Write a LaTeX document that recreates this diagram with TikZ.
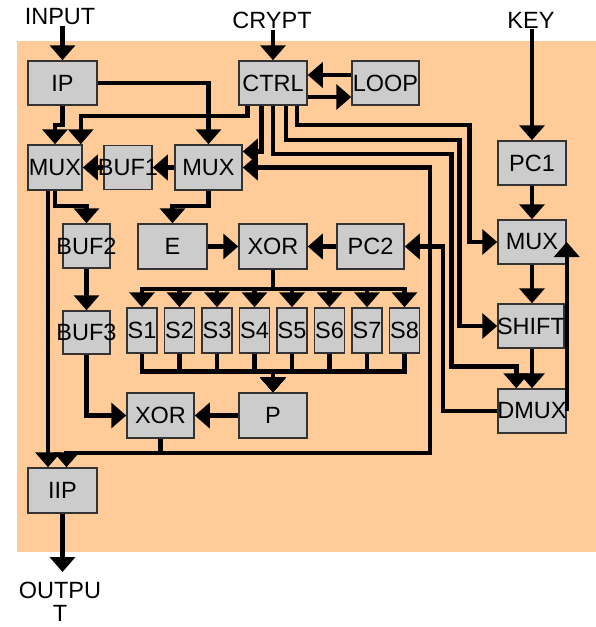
\documentclass[tikz,border=0pt]{standalone}
\usepackage{fontspec}
\setmainfont{Liberation Sans}
\usetikzlibrary{arrows.meta}

\definecolor{bgpeach}{RGB}{255,204,153}
\definecolor{boxgray}{RGB}{204,204,204}

\begin{document}
\begin{tikzpicture}[x=1pt,y=-1pt,
    font=\fontsize{23.5}{23}\selectfont,
    blk/.style={draw=black!80, line width=1.5pt, fill=boxgray, inner sep=0pt,
        minimum width=68pt, minimum height=44pt},
    arr/.style={line width=4.5pt, -{Triangle[length=15pt,width=25pt]}},
    lbl/.style={inner sep=1pt}]
    \useasboundingbox (0,0) rectangle (596,627);
    \fill[bgpeach] (17,41) rectangle (596,552);

    \node[lbl] (input) at (60,17) {INPUT};
    \node[lbl] (crypt) at (272,20) {CRYPT};
    \node[lbl] (key) at (531,20) {KEY};
    \node[lbl, align=center, anchor=north, inner ysep=0pt] (output) at (60,582) {OUTPU\\T};

    \node[blk, minimum width=69pt] (ip) at (62.5,83) {IP};
    \node[blk] (ctrl) at (273,83) {CTRL};
    \node[blk, minimum width=67pt] (loop) at (385.5,83) {LOOP};
    \node[blk, minimum width=54pt, minimum height=45pt] (mux1) at (55,167.5) {\makebox[0pt]{MUX}};
    \node[blk, minimum width=48pt] (buf1) at (128,167.5) {\makebox[0pt]{BUF1}};
    \node[blk, minimum width=67pt, minimum height=45pt] (mux2) at (208.5,167.5) {MUX};
    \node[blk, minimum width=47pt] (buf2) at (86.5,246) {\makebox[0pt]{BUF2}};
    \node[blk, minimum width=69pt, minimum height=45pt] (e) at (172.5,246.5) {E};
    \node[blk, minimum height=45pt] (xor1) at (273,246.5) {XOR};
    \node[blk, minimum width=67pt, minimum height=45pt] (pc2) at (370.5,246.5) {PC2};
    \node[blk, minimum width=47pt, minimum height=43pt] (buf3) at (86.5,332.5) {\makebox[0pt]{BUF3}};
    \foreach \i in {1,...,8}
        \node[blk, minimum width=30pt, minimum height=45pt] (s\i) at ({104.5+37.5*\i},330.5) {\makebox[0pt]{S\i}};
    \node[blk, minimum width=67pt, minimum height=45pt] (xor2) at (160.5,415.5) {XOR};
    \node[blk, minimum height=45pt] (p) at (273,415.5) {P};
    \node[blk, minimum width=69pt, minimum height=45pt] (iip) at (62.5,490.5) {IIP};
    \node[blk] (pc1) at (532,163) {PC1};
    \node[blk] (mux3) at (532,242) {MUX};
    \node[blk, minimum width=66pt] (shifter) at (531,326) {\makebox[0pt]{SHIFT}};
    \node[blk] (dmux) at (532,411) {\makebox[0pt]{DMUX}};

    \coordinate (fb) at (430,453);
    \coordinate (iipin) at ([xshift=4pt]iip.north);
    \coordinate (m1out) at ([xshift=-7pt]mux1.south);
    \coordinate (pbus) at ([yshift=21pt]p.north);
    \coordinate (outin) at ([yshift=10pt]output.north);

    \draw[arr] (ip.north |- input.south) -- (ip.north);
    \draw[arr] (ctrl.north |- crypt.south) -- (ctrl.north);
    \draw[arr] (pc1.north |- key.south) -- (pc1.north);

    \draw[arr] (ip.south) -- ++(0,19) -| (mux1.north);
    \draw[arr] ([xshift=9pt]ctrl.south west) -- ++(0,10) -| ([xshift=-2pt]mux1.north east);
    \draw[arr] (ip.east) -| (mux2.north);
    \draw[arr] (mux2.west) -- (buf1.east);
    \draw[arr] (buf1.west) -- (mux1.east);
    \draw[arr] ([xshift=23pt]ctrl.south west) |- ([yshift=16pt]mux2.east);
    \draw[arr] (m1out) -- (m1out |- iip.north);
    \draw[arr] (mux1.south) -- ++(0,15) -| (buf2.north);
    \draw[arr] (mux2.south) -- ++(0,15) -| (e.north);
    \draw[arr] (e.east) -- (xor1.west);
    \draw[arr] (pc2.west) -- (xor1.east);
    \foreach \i in {1,...,8} {
        \draw[arr] (xor1.south) -- ++(0,19) -| (s\i.north);
        \draw[arr] (s\i.south) |- (pbus) -- (p.north);
    }
    \draw[arr] (p.west) -- (xor2.east);
    \draw[arr] (buf2.south) -- (buf3.north);
    \draw[arr] (buf3.south) |- (xor2.west);
    \draw[arr] (xor2.south) |- (fb) |- (mux2.east);
    \draw[arr] (xor2.south) |- (iipin |- fb) -- (iipin);
    \draw[arr] (iip.south) -- (iip.south |- outin);

    \draw[arr] ([yshift=-14pt]ctrl.east) -- ([yshift=-14pt]loop.west);
    \draw[arr] ([yshift=8pt]loop.west) -- ([yshift=8pt]ctrl.east);
    \draw[arr] ([xshift=-11pt]ctrl.south east) -- ++(0,19) -| ([xshift=-28pt]mux3.west) -- (mux3.west);
    \draw[arr] ([xshift=-22pt]ctrl.south east) -- ++(0,34) -| ([xshift=-38pt]shifter.west) -- (shifter.west);
    \draw[arr] (ctrl.south) -- ++(0,48) -| ([xshift=-46pt,yshift=22pt]dmux.north west) -| ([xshift=19pt]dmux.north west);
    \draw[arr] (dmux.west) -| ([xshift=38pt]pc2.east) -- (pc2.east);
    \draw[arr] (dmux.east) -- (dmux.east |- mux3.east);
    \draw[arr] (pc1.south) -- (mux3.north);
    \draw[arr] (mux3.south) -- (shifter.north -| mux3.south);
    \draw[arr] (shifter.south -| dmux.north) -- (dmux.north);
\end{tikzpicture}
\end{document}
